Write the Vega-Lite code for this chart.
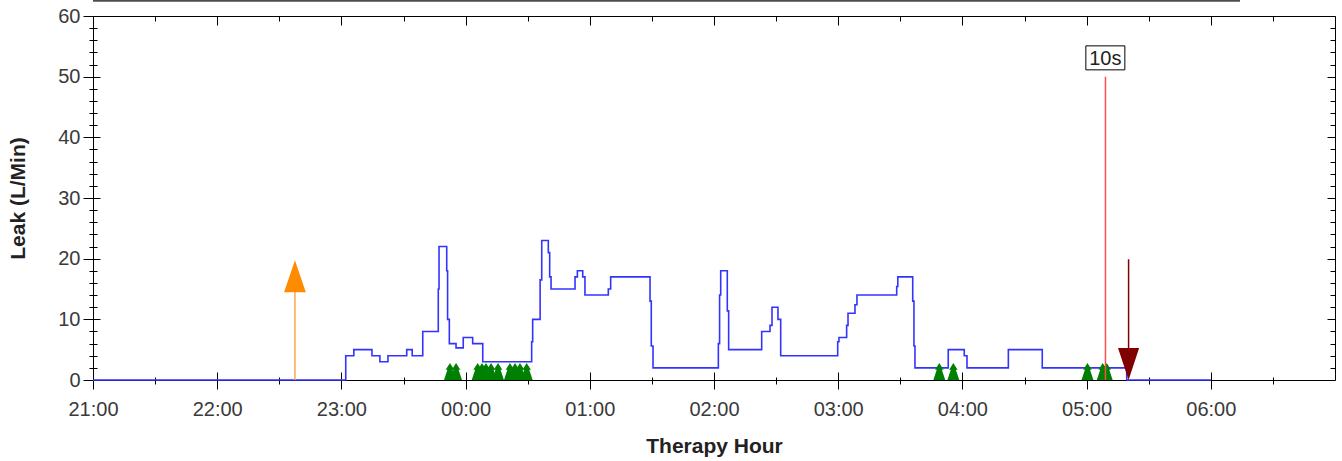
{
  "$schema": "https://vega.github.io/schema/vega-lite/v6.json",
  "width": 1242,
  "height": 364,
  "autosize": "none",
  "padding": {"left": 93, "top": 16, "right": 7, "bottom": 81},
  "background": "white",
  "config": {
    "view": {"stroke": null},
    "axis": {
      "grid": false,
      "domainColor": "#000000",
      "tickColor": "#000000",
      "tickWidth": 1,
      "domainWidth": 1,
      "labelFont": "Liberation Sans",
      "labelFontSize": 20,
      "labelColor": "#3a3a3a",
      "titleFont": "Liberation Sans",
      "titleFontSize": 21,
      "titleFontWeight": "bold",
      "titleColor": "#222222",
      "labelOverlap": false,
      "labelFlush": false
    }
  },
  "resolve": {"axis": {"x": "independent", "y": "independent"}},
  "layer": [
    {
      "data": {"values": [
        {"t":21,"v":0},{"t":23.035,"v":4},{"t":23.1,"v":5},{"t":23.246,"v":4},{"t":23.31,"v":3},{"t":23.375,"v":4},{"t":23.526,"v":5},{"t":23.57,"v":4},{"t":23.655,"v":8},{"t":23.78,"v":15},{"t":23.786,"v":22},{"t":23.848,"v":18},{"t":23.855,"v":10},{"t":23.869,"v":6},{"t":23.923,"v":5.3},{"t":23.981,"v":7},{"t":24.057,"v":6},{"t":24.138,"v":3},{"t":24.532,"v":6.3},{"t":24.54,"v":10},{"t":24.6,"v":16.5},{"t":24.613,"v":23},{"t":24.666,"v":21},{"t":24.677,"v":17},{"t":24.688,"v":15},{"t":24.881,"v":17},{"t":24.9,"v":18},{"t":24.943,"v":17},{"t":24.961,"v":14},{"t":25.149,"v":15},{"t":25.168,"v":17},{"t":25.485,"v":13},{"t":25.495,"v":5.6},{"t":25.509,"v":2},{"t":26.035,"v":6},{"t":26.045,"v":14},{"t":26.054,"v":18},{"t":26.107,"v":11.4},{"t":26.118,"v":5},{"t":26.384,"v":8},{"t":26.451,"v":9},{"t":26.467,"v":12},{"t":26.515,"v":10},{"t":26.537,"v":4},{"t":26.996,"v":6.3},{"t":27.006,"v":7},{"t":27.068,"v":9},{"t":27.079,"v":11},{"t":27.135,"v":12.4},{"t":27.151,"v":14},{"t":27.471,"v":15.4},{"t":27.48,"v":17},{"t":27.6,"v":13},{"t":27.61,"v":5.6},{"t":27.618,"v":2},{"t":27.886,"v":5},{"t":28.015,"v":4},{"t":28.037,"v":2},{"t":28.37,"v":5},{"t":28.643,"v":2},{"t":29.323,"v":0},{"t":30.0,"v":0}
      ]},
      "mark": {"type": "line", "interpolate": "step-after", "color": "#3333ff", "strokeWidth": 1.6},
      "encoding": {
        "x": {
          "field": "t", "type": "quantitative",
          "scale": {"domain": [21, 31], "nice": false, "zero": false},
          "axis": {
            "orient": "bottom",
            "values": [21,21.5,22,22.5,23,23.5,24,24.5,25,25.5,26,26.5,27,27.5,28,28.5,29,29.5,30,30.5],
            "tickSize": {"condition": {"test": "datum.value % 1 === 0", "value": 9}, "value": 4},
            "labelExpr": "datum.value % 1 === 0 ? ((datum.value % 24) < 10 ? '0' : '') + (datum.value % 24) + ':00' : ''",
            "labelPadding": 10,
            "title": "Therapy Hour",
            "titlePadding": 16
          }
        },
        "y": {
          "field": "v", "type": "quantitative",
          "scale": {"domain": [0, 60], "nice": false},
          "axis": {
            "orient": "left",
            "values": [0,2,4,6,8,10,12,14,16,18,20,22,24,26,28,30,32,34,36,38,40,42,44,46,48,50,52,54,56,58,60],
            "tickSize": {"condition": {"test": "datum.value % 10 === 0", "value": 10}, "value": 4},
            "labelExpr": "datum.value % 10 === 0 ? datum.label : ''",
            "labelPadding": 3,
            "title": "Leak (L/Min)",
            "titlePadding": 29
          }
        }
      }
    },
    {
      "data": {"values": [{"t": 22.626, "y0": 0, "y1": 15}]},
      "mark": {"type": "rule", "color": "#ffa64d", "strokeWidth": 1.5},
      "encoding": {
        "x": {
          "field": "t", "type": "quantitative",
          "scale": {"domain": [21, 31], "nice": false, "zero": false},
          "axis": {
            "orient": "bottom",
            "values": [21,21.5,22,22.5,23,23.5,24,24.5,25,25.5,26,26.5,27,27.5,28,28.5,29,29.5,30,30.5],
            "tickSize": {"condition": {"test": "datum.value % 1 === 0", "value": -8}, "value": -3},
            "labels": false, "domain": false, "title": null
          }
        },
        "y": {
          "field": "y0", "type": "quantitative",
          "scale": {"domain": [0, 60], "nice": false},
          "axis": {
            "orient": "left",
            "values": [0,2,4,6,8,10,12,14,16,18,20,22,24,26,28,30,32,34,36,38,40,42,44,46,48,50,52,54,56,58,60],
            "tickSize": {"condition": {"test": "datum.value % 10 === 0", "value": -7}, "value": -4},
            "labels": false, "domain": false, "title": null
          }
        },
        "y2": {"field": "y1"}
      }
    },
    {
      "data": {"values": [{"t": 22.626, "v": 17.1}]},
      "mark": {"type": "point", "shape": "M0,-1L0.68,1L-0.68,1Z", "size": 1024, "filled": true, "color": "#ff8c00", "opacity": 1},
      "encoding": {
        "x": {
          "field": "t", "type": "quantitative",
          "scale": {"domain": [21, 31], "nice": false, "zero": false},
          "axis": {
            "orient": "top",
            "values": [21,21.5,22,22.5,23,23.5,24,24.5,25,25.5,26,26.5,27,27.5,28,28.5,29,29.5,30,30.5],
            "tickSize": {"condition": {"test": "datum.value % 1 === 0", "value": -9}, "value": -5},
            "labels": false, "title": null
          }
        },
        "y": {
          "field": "v", "type": "quantitative",
          "scale": {"domain": [0, 60], "nice": false},
          "axis": {
            "orient": "right",
            "values": [0,2,4,6,8,10,12,14,16,18,20,22,24,26,28,30,32,34,36,38,40,42,44,46,48,50,52,54,56,58,60],
            "tickSize": {"condition": {"test": "datum.value % 10 === 0", "value": -8}, "value": -5},
            "labels": false, "title": null
          }
        }
      }
    },
    {
      "data": {"values": [
        {"t":23.874},{"t":23.923},{"t":24.097},{"t":24.132},{"t":24.164},{"t":24.205},{"t":24.261},{"t":24.357},{"t":24.398},{"t":24.438},{"t":24.492},{"t":27.814},{"t":27.927},{"t":29.007},{"t":29.13},{"t":29.162}
      ]},
      "mark": {"type": "point", "shape": "M0,-1L0.5,-0.2L0.3,-0.2L0.7,1L-0.7,1L-0.3,-0.2L-0.5,-0.2Z", "size": 289, "filled": true, "color": "#008000", "opacity": 1},
      "encoding": {
        "x": {"field": "t", "type": "quantitative", "scale": {"domain": [21, 31], "nice": false, "zero": false}, "axis": null},
        "y": {"datum": 1.4, "type": "quantitative", "scale": {"domain": [0, 60], "nice": false}, "axis": null}
      }
    },
    {
      "data": {"values": [{"t": 29.152, "y0": 0, "y1": 50}]},
      "mark": {"type": "rule", "color": "#ff4d4d", "strokeWidth": 1.5},
      "encoding": {
        "x": {"field": "t", "type": "quantitative", "scale": {"domain": [21, 31], "nice": false, "zero": false}, "axis": null},
        "y": {"field": "y0", "type": "quantitative", "scale": {"domain": [0, 60], "nice": false}, "axis": null},
        "y2": {"field": "y1"}
      }
    },
    {
      "data": {"values": [{"t": 29.151, "v": 53.1, "label": "10s"}]},
      "mark": {"type": "point", "shape": "M-1,-0.615L1,-0.615L1,0.615L-1,0.615Z", "size": 1521, "filled": false, "stroke": "#000000", "strokeWidth": 1, "fill": "white", "fillOpacity": 1, "opacity": 1},
      "encoding": {
        "x": {"field": "t", "type": "quantitative", "scale": {"domain": [21, 31], "nice": false, "zero": false}, "axis": null},
        "y": {"field": "v", "type": "quantitative", "scale": {"domain": [0, 60], "nice": false}, "axis": null}
      }
    },
    {
      "data": {"values": [{"t": 29.151, "v": 53.1, "label": "10s"}]},
      "mark": {"type": "text", "font": "Liberation Sans", "fontSize": 20, "color": "#222222", "baseline": "middle", "align": "center", "dy": 1},
      "encoding": {
        "x": {"field": "t", "type": "quantitative", "scale": {"domain": [21, 31], "nice": false, "zero": false}, "axis": null},
        "y": {"field": "v", "type": "quantitative", "scale": {"domain": [0, 60], "nice": false}, "axis": null},
        "text": {"field": "label"}
      }
    },
    {
      "data": {"values": [{"t": 29.338, "y0": 4, "y1": 19.9}]},
      "mark": {"type": "rule", "color": "#800000", "strokeWidth": 1.5},
      "encoding": {
        "x": {"field": "t", "type": "quantitative", "scale": {"domain": [21, 31], "nice": false, "zero": false}, "axis": null},
        "y": {"field": "y0", "type": "quantitative", "scale": {"domain": [0, 60], "nice": false}, "axis": null},
        "y2": {"field": "y1"}
      }
    },
    {
      "data": {"values": [{"t": 29.338, "v": 2.64}]},
      "mark": {"type": "point", "shape": "M-0.66,-1L0.66,-1L0,1Z", "size": 1024, "filled": true, "color": "#800000", "opacity": 1},
      "encoding": {
        "x": {"field": "t", "type": "quantitative", "scale": {"domain": [21, 31], "nice": false, "zero": false}, "axis": null},
        "y": {"field": "v", "type": "quantitative", "scale": {"domain": [0, 60], "nice": false}, "axis": null}
      }
    },
    {
      "data": {"values": [{"t0": 21, "t1": 30.235, "v": 62.5}]},
      "mark": {"type": "rule", "color": "#4d4d4d", "strokeWidth": 2, "clip": false},
      "encoding": {
        "x": {"field": "t0", "type": "quantitative", "scale": {"domain": [21, 31], "nice": false, "zero": false}, "axis": null},
        "x2": {"field": "t1"},
        "y": {"field": "v", "type": "quantitative", "scale": {"domain": [0, 60], "nice": false}, "axis": null}
      }
    }
  ]
}
